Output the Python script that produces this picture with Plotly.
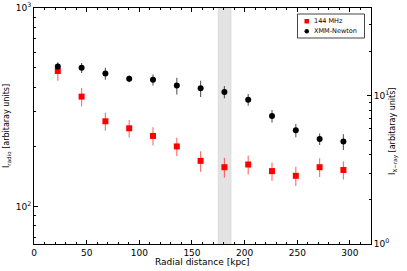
import plotly.graph_objects as go

# Data
radius_kpc = [22.6, 45.2, 67.8, 90.4, 113.0, 135.6, 158.2, 180.8, 203.4, 226.0, 248.6, 271.2, 293.8]
radio_144 = [482, 358, 269, 248, 227, 201, 170, 158, 163, 151, 143, 158, 153]
radio_err = [52, 38, 28, 25, 24, 21, 20, 18, 18, 16, 16, 17, 16]
xray_xmm = [15.7, 15.4, 14.1, 13.0, 12.8, 11.7, 11.2, 10.6, 9.4, 7.3, 5.84, 5.1, 4.9]
xray_err = [0.85, 1.2, 1.3, 0.7, 1.1, 1.5, 1.4, 1.0, 0.85, 0.7, 0.6, 0.45, 0.6]
band_kpc = [175, 187]
series_names = ["144 MHz", "XMM-Newton"]

font = "DejaVu Sans"
W, H = 407, 271
ML, MR, MT, MB = 34, 36, 8, 27
PW, PH = W - ML - MR, H - MT - MB

def px_x(p):
    return (p - ML) / PW

def px_y(p):
    return (H - MB - p) / PH

fig = go.Figure()

fig.add_trace(go.Scatter(
    x=radius_kpc, y=radio_144, mode="markers", name=series_names[0],
    marker=dict(symbol="square", size=6, color="#ff0000"),
    error_y=dict(type="data", array=radio_err, color="rgba(255,0,0,0.55)", thickness=1.2, width=0),
    yaxis="y"))
fig.add_trace(go.Scatter(
    x=radius_kpc, y=xray_xmm, mode="markers", name=series_names[1],
    marker=dict(symbol="circle", size=6, color="#000000"),
    error_y=dict(type="data", array=xray_err, color="rgba(0,0,0,0.6)", thickness=1.2, width=0),
    yaxis="y2"))

def log_minor(lo, hi):
    vals = []
    for d in range(lo, hi):
        for m in range(2, 10):
            vals.append(m * 10 ** d)
    return vals

# shaded band
fig.add_shape(type="rect", xref="x", yref="paper", x0=band_kpc[0], x1=band_kpc[1],
              y0=0, y1=1, fillcolor="#e3e3e3", line=dict(color="#d6d6d6", width=0.8), layer="below")

# Legend (drawn manually to match compact matplotlib legend)
lx0, lx1, ly0, ly1 = px_x(297.5), px_x(364.5), px_y(38), px_y(14)
fig.add_shape(type="rect", xref="paper", yref="paper", x0=lx0, x1=lx1, y0=ly0, y1=ly1,
              fillcolor="white", line=dict(width=0), layer="above")
for (a, b, c, d) in [(lx0, lx1, ly0, ly0), (lx0, lx1, ly1, ly1), (lx0, lx0, ly0, ly1), (lx1, lx1, ly0, ly1)]:
    fig.add_shape(type="line", xref="paper", yref="paper", x0=a, x1=b, y0=c, y1=d,
                  line=dict(color="#444444", width=1), layer="above")
fig.add_shape(type="rect", xref="paper", yref="paper", x0=px_x(304.5), x1=px_x(309),
              y0=px_y(23.5), y1=px_y(19), fillcolor="#ff0000", line=dict(width=0), layer="above")
fig.add_shape(type="circle", xref="paper", yref="paper", x0=px_x(304.5), x1=px_x(309),
              y0=px_y(33.5), y1=px_y(29), fillcolor="#000000", line=dict(width=0), layer="above")

annotations = [
    dict(text="Radial distance [kpc]", xref="paper", yref="paper", x=0.5, y=0,
         yshift=-18, xanchor="center", yanchor="middle", showarrow=False, font=dict(size=9)),
    dict(text="I<sub>radio</sub> [arbitaray units]", xref="paper", yref="paper",
         x=0, xshift=-27, y=0.5, textangle=-90, xanchor="center", yanchor="middle",
         showarrow=False, font=dict(size=8)),
    dict(text="I<sub>X\u2212ray</sub> [arbitaray units]", xref="paper", yref="paper",
         x=1, xshift=23, y=0.475, textangle=-90, xanchor="center", yanchor="middle",
         showarrow=False, font=dict(size=8)),
    dict(text=series_names[0], xref="paper", yref="paper", x=px_x(312), y=px_y(21.2),
         xanchor="left", yanchor="middle", showarrow=False, font=dict(size=6.5)),
    dict(text=series_names[1], xref="paper", yref="paper", x=px_x(312), y=px_y(31.3),
         xanchor="left", yanchor="middle", showarrow=False, font=dict(size=6.5)),
]

fig.update_layout(
    width=W, height=H,
    margin=dict(l=ML, r=MR, t=MT, b=MB, autoexpand=False),
    paper_bgcolor="white", plot_bgcolor="white",
    font=dict(family=font, size=8, color="black"),
    showlegend=False,
    xaxis=dict(range=[0, 320], showgrid=False, zeroline=False, automargin=False,
               showline=True, linecolor="black", linewidth=1, mirror="ticks",
               ticks="inside", ticklen=4, tickcolor="black", tickwidth=1,
               tickvals=[0, 50, 100, 150, 200, 250, 300],
               minor=dict(ticks="inside", ticklen=2, tickcolor="black", dtick=10, showgrid=False),
               tickfont=dict(size=9)),
    yaxis=dict(type="log", range=[1.812, 3], showgrid=False, zeroline=False, automargin=False,
               showline=True, linecolor="black", linewidth=1,
               ticks="inside", ticklen=4, tickcolor="black", tickwidth=1,
               tickvals=[100, 1000], ticktext=["10<sup>2</sup>", "10<sup>3</sup>"],
               minor=dict(ticks="inside", ticklen=2, tickcolor="black",
                          tickvals=log_minor(1, 3), showgrid=False),
               tickfont=dict(size=9)),
    yaxis2=dict(type="log", range=[0, 1.591], overlaying="y", side="right",
                showgrid=False, zeroline=False, automargin=False,
                showline=True, linecolor="black", linewidth=1,
                ticks="inside", ticklen=4, tickcolor="black", tickwidth=1,
                tickvals=[1, 10], ticktext=["10<sup>0</sup>", "10<sup>1</sup>"],
                minor=dict(ticks="inside", ticklen=2, tickcolor="black",
                           tickvals=log_minor(0, 2), showgrid=False),
                tickfont=dict(size=9)),
    annotations=annotations,
)

fig.write_html("out.html", config={"displayModeBar": False},
               post_script="document.body.style.margin='0';")
